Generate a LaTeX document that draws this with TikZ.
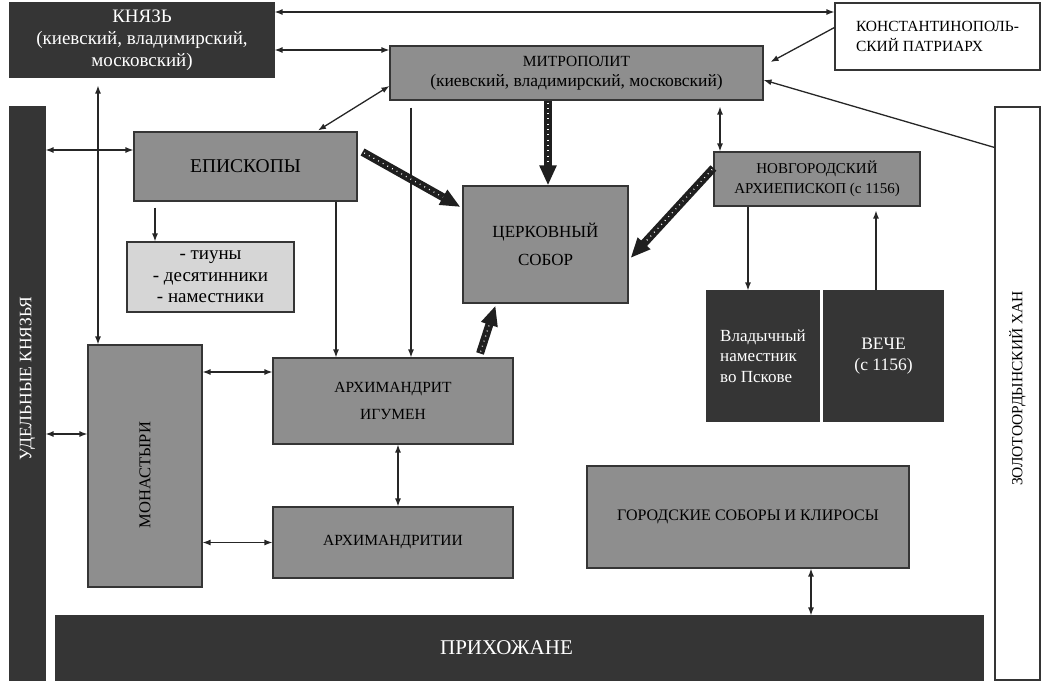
\documentclass[tikz,border=0pt]{standalone}
\usepackage{fontspec}
\setmainfont{Liberation Serif}
\usepackage{xcolor}
\definecolor{c333}{HTML}{353535}
\definecolor{c8e}{HTML}{8E8E8E}
\definecolor{cd4}{HTML}{D6D6D6}
\usetikzlibrary{arrows.meta}

\newcommand{\fs}[2]{\fontsize{#1}{#2}\selectfont}

\begin{document}
\begin{tikzpicture}[x=1pt, y=-1pt,
                        box/.style={draw=c333, line width=1.1pt, inner sep=2pt, align=center},
                        grbox/.style={box, fill=c8e},
                        dkbox/.style={box, fill=c333, text=white},
                        ltbox/.style={box, fill=cd4},
                        whbox/.style={box, fill=white},
                        conn/.style={line width=1.3pt, draw=black!85, >={Latex[length=8pt,width=6pt]}},
                        fat/.style={line width=8pt, draw=black!88, -{Triangle[length=20pt,width=16pt]},
                                    postaction={draw=white, line width=1.3pt, dash pattern=on 0.8pt off 4.5pt, -, shorten >=20pt, shorten <=2pt}}]
                        \useasboundingbox (0, 0) rectangle (1045, 686);

                        \node (knyaz) at (142, 40) [dkbox, minimum width=264, minimum height=74, font=\fs{19}{22}] {КНЯЗЬ\\(киевский, владимирский,\\московский)};
                        \node (patr) at (937.5, 36.5) [whbox, minimum width=205, minimum height=67, align=left, font=\fs{15.5}{20}] {КОНСТАНТИНОПОЛЬ-\\СКИЙ ПАТРИАРХ};
                        \node (mitr) at (576.5, 73) [grbox, minimum width=373, minimum height=54, font=\fs{15.5}{20}] {МИТРОПОЛИТ\\{\fs{17.5}{20}(киевский, владимирский, московский)}};

                        \node (udel) at (27.5, 393.5) [dkbox, minimum width=35, minimum height=573,
                            label={[yshift=15pt, rotate=90, text=white, font=\fs{17.5}{20}]center:УДЕЛЬНЫЕ КНЯЗЬЯ}] {};
                        \node (khan) at (1017.5, 393.5) [whbox, minimum width=45, minimum height=573,
                            label={[yshift=5pt, rotate=90, font=\fs{15.5}{19}]center:ЗОЛОТООРДЫНСКИЙ ХАН}] {};

                        \node (epi) at (245.5, 166.5) [grbox, minimum width=223, minimum height=69, font=\fs{19.5}{23}] {ЕПИСКОПЫ};
                        \node (tiuny) at (210.5, 277) [ltbox, minimum width=167, minimum height=70, font=\fs{19}{21.5}] {- тиуны\\- десятинники\\- наместники};
                        \node (sobor) at (545.5, 244.5) [grbox, minimum width=165, minimum height=117, font=\fs{17}{21}] {ЦЕРКОВНЫЙ\\[7pt]СОБОР};
                        \node (novg) at (817, 179) [grbox, minimum width=206, minimum height=54, font=\fs{15}{20}] {НОВГОРОДСКИЙ\\АРХИЕПИСКОП (с 1156)};
                        \node (vlad) at (763, 356) [dkbox, minimum width=112, minimum height=130, align=left, font=\fs{17}{20.5}] {Владычный\\наместник\\во Пскове};
                        \node (veche) at (883.5, 356) [dkbox, minimum width=119, minimum height=130, font=\fs{17.5}{21}] {ВЕЧЕ\\(с 1156)};

                        \node (mon) at (145, 466) [grbox, minimum width=114, minimum height=242,
                            label={[yshift=-9pt, rotate=90, font=\fs{16.5}{20}]center:МОНАСТЫРИ}] {};
                        \node (arch) at (393, 401) [grbox, minimum width=240, minimum height=86, font=\fs{15.5}{19}] {АРХИМАНДРИТ\\[8pt]ИГУМЕН};
                        \node (archi) at (393, 542.5) [grbox, minimum width=240, minimum height=71, font=\fs{15.5}{19}] {АРХИМАНДРИТИИ};
                        \node (gor) at (748, 517) [grbox, minimum width=322, minimum height=102, font=\fs{16}{19}] {ГОРОДСКИЕ СОБОРЫ И КЛИРОСЫ};
                        \node (prih) at (519.5, 648) [dkbox, minimum width=927, minimum height=64, font=\fs{21}{24}] {\hspace*{-26pt}ПРИХОЖАНЕ};

                        % top
                        \draw[conn, <->] ([yshift=28pt]knyaz.east) -- ([yshift=28pt]knyaz.east -| patr.west);
                        \draw[conn, <->] ([yshift=-10pt]knyaz.east) -- ([yshift=-10pt]knyaz.east -| mitr.west);
                        \draw[conn, ->] ([yshift=9pt]patr.west) -- ([xshift=7pt, yshift=11pt]mitr.east);
                        \draw[conn, ->] ([yshift=-41pt]khan.north west) -- ([yshift=-7pt]mitr.east);
                        \draw[conn, <->] ([xshift=72.5pt, yshift=1pt]epi.north) -- ([yshift=-13pt]mitr.west);
                        \draw[conn, <->, shorten <=6pt] ([xshift=-97pt]novg.north |- mitr.south) -- ([xshift=-97pt]novg.north);

                        % left
                        \draw[conn, <->] ([yshift=16.5pt]epi.west -| udel.east) -- ([yshift=16.5pt]epi.west);
                        \draw[conn, <->, shorten >=8pt] ([xshift=-47pt]mon.north) -- ([xshift=-47pt]mon.north |- knyaz.south);
                        \draw[conn, ->, shorten <=6pt] ([xshift=-55.5pt]tiuny.north |- epi.south) -- ([xshift=-55.5pt]tiuny.north);
                        \draw[conn, ->] ([xshift=90.5pt]epi.south) -- ([xshift=90.5pt]epi.south |- arch.north);
                        \draw[conn, ->, shorten <=7pt] ([xshift=18pt]arch.north |- mitr.south) -- ([xshift=18pt]arch.north);
                        \draw[conn, <->] ([yshift=32pt]mon.west -| udel.east) -- ([yshift=32pt]mon.west);
                        \draw[conn, <->] ([yshift=29pt]arch.west -| mon.east) -- ([yshift=29pt]arch.west);
                        \draw[conn, <->] (archi.west -| mon.east) -- (archi.west);
                        \draw[conn, <->] ([xshift=5pt]arch.south) -- ([xshift=5pt]arch.south |- archi.north);

                        % right
                        \draw[conn, ->] ([xshift=-15pt]vlad.north |- novg.south) -- ([xshift=-15pt]vlad.north);
                        \draw[conn, ->, shorten >=4pt] ([xshift=-7.5pt]veche.north) -- ([xshift=-7.5pt]veche.north |- novg.south);
                        \draw[conn, <->] ([xshift=63pt]gor.south) -- ([xshift=63pt]gor.south |- prih.north);

                        % sobor
                        \draw[fat] ([xshift=2.5pt]sobor.north |- mitr.south) -- ([xshift=2.5pt]sobor.north);
                        \draw[fat] ([xshift=5pt, yshift=14.5pt]epi.east) -- ([xshift=-2pt, yshift=37.5pt]sobor.west);
                        \draw[fat] ([yshift=11pt]novg.west) -- ([xshift=2pt, yshift=-13.5pt]sobor.east);
                        \draw[fat] ([xshift=87pt, yshift=4pt]arch.north) -- ([xshift=-50pt, yshift=-2pt]sobor.south);
                    \end{tikzpicture}
\end{document}
